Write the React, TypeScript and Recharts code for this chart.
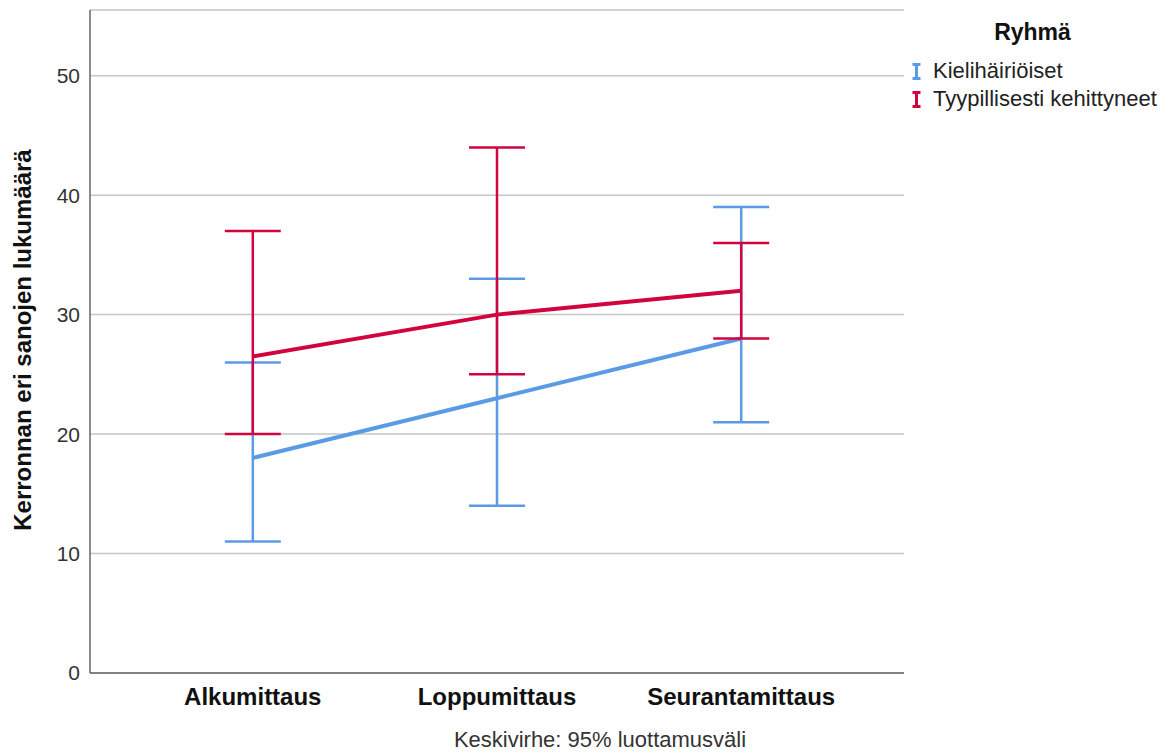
import { LineChart, Line, XAxis, YAxis, CartesianGrid, ErrorBar } from "recharts";

const categories = ["Alkumittaus", "Loppumittaus", "Seurantamittaus"];
const yTicks = [0, 10, 20, 30, 40, 50];

// Kielihäiriöiset
const blueMean = [18, 23, 28];
const blueLow = [11, 14, 21];
const blueHigh = [26, 33, 39];

// Tyypillisesti kehittyneet
const redMean = [26.5, 30, 32];
const redLow = [20, 25, 28];
const redHigh = [37, 44, 36];

const BLUE = "#5B9BE6";
const RED = "#D2043F";
const FONT = "'Liberation Sans', Arial, sans-serif";

const data = categories.map((c, i) => ({
  x: i,
  name: c,
  blue: blueMean[i],
  blueErr: [blueMean[i] - blueLow[i], blueHigh[i] - blueMean[i]],
  red: redMean[i],
  redErr: [redMean[i] - redLow[i], redHigh[i] - redMean[i]],
}));

const legendItems = [
  { label: "Kielihäiriöiset", color: BLUE },
  { label: "Tyypillisesti kehittyneet", color: RED },
];

function ErrIcon({ color }: { color: string }) {
  return (
    <svg width={9} height={17} style={{ display: "block" }}>
      <line x1={0.5} y1={1.5} x2={8.5} y2={1.5} stroke={color} strokeWidth={3} />
      <line x1={4.5} y1={1.5} x2={4.5} y2={15.5} stroke={color} strokeWidth={3} />
      <line x1={0.5} y1={15.5} x2={8.5} y2={15.5} stroke={color} strokeWidth={3} />
    </svg>
  );
}

export default function App() {
  return (
    <div style={{ position: "absolute", left: 0, top: 0, width: 1173, height: 754, fontFamily: FONT, background: "#fff" }}>
      <LineChart width={1173} height={754} data={data} margin={{ top: 10, right: 269, bottom: 0, left: 0 }}>
        <CartesianGrid vertical={false} stroke="#c6c6c6" strokeWidth={1.5} />
        <XAxis
          dataKey="x"
          type="number"
          domain={[-2 / 3, 8 / 3]}
          ticks={[0, 1, 2]}
          tickFormatter={(v: number) => categories[v]}
          height={81}
          tickLine={false}
          tickSize={0}
          tickMargin={15}
          axisLine={{ stroke: "#666", strokeWidth: 1.5 }}
          tick={{ fill: "#111", fontSize: 24, fontWeight: 700, fontFamily: FONT }}
          label={{
            content: () => (
              <text x={600} y={747} textAnchor="middle" fontSize={22} fill="#333" fontFamily={FONT}>
                Keskivirhe: 95% luottamusväli
              </text>
            ),
          }}
        />
        <YAxis
          type="number"
          domain={[0, 55.5]}
          ticks={yTicks}
          width={90}
          tickLine={false}
          tickSize={0}
          tickMargin={10}
          axisLine={{ stroke: "#666", strokeWidth: 1.5 }}
          tick={{ fill: "#333", fontSize: 21, fontFamily: FONT }}
          label={{
            content: () => (
              <text
                x={31}
                y={340}
                transform="rotate(-90 31 340)"
                textAnchor="middle"
                fontSize={24}
                fontWeight={700}
                fill="#111"
                fontFamily={FONT}
              >
                Kerronnan eri sanojen lukumäärä
              </text>
            ),
          }}
        />
        <Line dataKey="blue" stroke={BLUE} strokeWidth={4} dot={false} isAnimationActive={false}>
          <ErrorBar dataKey="blueErr" width={28} stroke={BLUE} strokeWidth={2.5} direction="y" isAnimationActive={false} />
        </Line>
        <Line dataKey="red" stroke={RED} strokeWidth={4} dot={false} isAnimationActive={false}>
          <ErrorBar dataKey="redErr" width={28} stroke={RED} strokeWidth={2.5} direction="y" isAnimationActive={false} />
        </Line>
      </LineChart>
      <div style={{ position: "absolute", left: 912, top: 19, width: 261 }}>
        <div style={{ textAlign: "center", fontWeight: 700, fontSize: 23, color: "#111", marginLeft: -20, marginBottom: 11 }}>
          Ryhmä
        </div>
        {legendItems.map((it) => (
          <div key={it.label} style={{ display: "flex", alignItems: "center", height: 28, fontSize: 22, color: "#222" }}>
            <ErrIcon color={it.color} />
            <span style={{ marginLeft: 12 }}>{it.label}</span>
          </div>
        ))}
      </div>
    </div>
  );
}
